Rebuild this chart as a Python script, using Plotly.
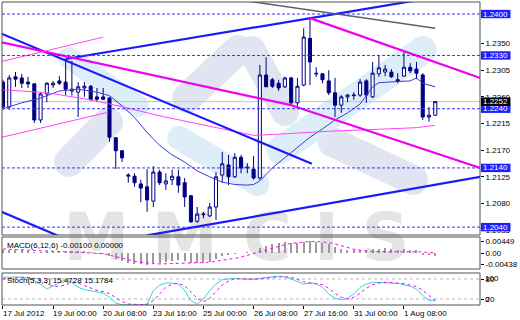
import math
import plotly.graph_objects as go

# ---------------- data ----------------
bars = list(range(70))
opens = [1.2285,1.2243,1.2294,1.2292,1.2285,1.2282,1.2221,1.2265,1.2280,1.2287,
         1.2285,1.2270,1.2268,1.2275,1.2278,1.2260,1.2260,1.2258,1.2191,1.2169,
         1.2126,1.2126,1.2113,1.2108,1.2084,1.2133,1.2113,1.2120,1.2125,1.2115,
         1.2093,1.2050,1.2061,1.2059,1.2074,1.2128,1.2145,1.2125,1.2158,1.2140,
         1.2138,1.2123,1.2297,1.2289,1.2283,1.2277,1.2292,1.2250,1.2280,1.2359,
         1.2300,1.2299,1.2287,1.2267,1.2246,1.2260,1.2262,1.2263,1.2287,1.2260,
         1.2299,1.2302,1.2302,1.2289,1.2295,1.2310,1.2307,1.2297,1.2226,1.2229]
highs = [1.2289,1.2297,1.2302,1.2299,1.2294,1.2283,1.2268,1.2285,1.2287,1.2295,
         1.2324,1.2321,1.2285,1.2285,1.2280,1.2275,1.2275,1.2260,1.2192,1.2170,
         1.2131,1.2131,1.2120,1.2138,1.2143,1.2137,1.2131,1.2137,1.2137,1.2123,
         1.2094,1.2074,1.2066,1.2081,1.2133,1.2167,1.2162,1.2165,1.2162,1.2148,
         1.2160,1.2314,1.2327,1.2292,1.2289,1.2294,1.2294,1.2292,1.2376,1.2393,
         1.2310,1.2300,1.2305,1.2292,1.2263,1.2265,1.2268,1.2290,1.2290,1.2319,
         1.2331,1.2314,1.2307,1.2300,1.2336,1.2317,1.2319,1.2300,1.2243,1.2253]
lows = [1.2238,1.2238,1.2277,1.2275,1.2275,1.2216,1.2216,1.2251,1.2275,1.2280,
        1.2263,1.2262,1.2226,1.2260,1.2255,1.2251,1.2255,1.2184,1.2138,1.2150,
        1.2115,1.2108,1.2082,1.2066,1.2074,1.2111,1.2103,1.2111,1.2098,1.2074,
        1.2047,1.2047,1.2055,1.2057,1.2052,1.2115,1.2111,1.2123,1.2131,1.2131,
        1.2120,1.2120,1.2277,1.2275,1.2270,1.2275,1.2246,1.2244,1.2278,1.2280,
        1.2294,1.2283,1.2263,1.2226,1.2233,1.2251,1.2255,1.2260,1.2250,1.2258,
        1.2294,1.2295,1.2292,1.2283,1.2294,1.2300,1.2290,1.2221,1.2218,1.2228]
closes = [1.2243,1.2292,1.2290,1.2283,1.2282,1.2221,1.2265,1.2283,1.2283,1.2283,
          1.2273,1.2273,1.2277,1.2278,1.2255,1.2256,1.2256,1.2192,1.2169,1.2157,
          1.2128,1.2115,1.2106,1.2086,1.2133,1.2115,1.2118,1.2126,1.2111,1.2091,
          1.2049,1.2062,1.2062,1.2074,1.2125,1.2147,1.2125,1.2158,1.2140,1.2141,
          1.2123,1.2297,1.2277,1.2278,1.2275,1.2292,1.2250,1.2278,1.2361,1.2319,
          1.2299,1.2289,1.2267,1.2246,1.2260,1.2263,1.2263,1.2285,1.2263,1.2300,
          1.2309,1.2307,1.2294,1.2287,1.2310,1.2304,1.2300,1.2226,1.2229,1.2252]

time_tick_bars = [0, 8, 16, 24, 32, 40, 48, 56, 64]
time_tick_labels = ["17 Jul 2012", "19 Jul 00:00", "20 Jul 08:00", "23 Jul 16:00",
                    "25 Jul 00:00", "26 Jul 08:00", "27 Jul 16:00", "31 Jul 00:00",
                    "1 Aug 08:00"]

price_ticks = [1.2350, 1.2305, 1.2260, 1.2215, 1.2170, 1.2125, 1.2080, 1.2035]
price_levels = [1.2400, 1.2330, 1.2240, 1.2140, 1.2040]
current_price = 1.2252

fast_ma_bars = [0, 3, 6, 9, 12, 15, 17, 19, 21, 23, 25, 27, 29, 31, 33, 35, 37, 39, 40,
                41, 43, 45, 47, 49, 51, 53, 55, 57, 58, 59, 60, 61, 63, 65, 66, 67, 69]
fast_ma_vals = [1.2240, 1.2250, 1.2258, 1.2270, 1.2273, 1.2268, 1.2262, 1.2245, 1.2225,
                1.2200, 1.2178, 1.2162, 1.2150, 1.2135, 1.2125, 1.2116, 1.2112, 1.2111,
                1.2112, 1.2118, 1.2140, 1.2157, 1.2175, 1.2192, 1.2206, 1.2221, 1.2233,
                1.2248, 1.2262, 1.2277, 1.2284, 1.2285, 1.2286, 1.2287, 1.2292, 1.2283,
                1.2277]
slow_ma_bars = [0, 7, 14, 20, 25, 29, 33, 36, 40, 44, 47, 52, 57, 62, 66, 69]
slow_ma_vals = [1.2272, 1.2267, 1.2255, 1.2241, 1.2228, 1.2219, 1.2210, 1.2204, 1.2195,
                1.2197, 1.2199, 1.2202, 1.2204, 1.2206, 1.2208, 1.2212]

# trend lines: start bar, start price, end bar, end price
thick_blue_lines = [(-0.5, 1.2368, 49.3, 1.2147),
                    (10.0, 1.2324, 66.0, 1.2423),
                    (-0.5, 1.2067, 10.0, 1.2020),
                    (23.0, 1.2026, 76.2, 1.2125)]
thick_magenta_lines = [(-0.5, 1.2353, 46.0, 1.2246),
                       (46.0, 1.2246, 76.2, 1.2140),
                       (49.0, 1.2393, 76.2, 1.2292)]
thin_magenta_lines = [(-0.5, 1.2319, 16.0, 1.2361),
                      (-0.5, 1.2191, 16.8, 1.2234)]
gray_lines = [(37.7, 1.2424, 69.0, 1.2376)]

macd_hist = [0.0012, 0.0010, 0.0011, 0.0010, 0.0008, 0.0002, 0.0003, 0.0005, 0.0006, 0.0006,
             0.0005, 0.0004, 0.0004, 0.0004, 0.0001, -0.0001, -0.0002, -0.0012, -0.0022, -0.0030,
             -0.0036, -0.0040, -0.0043, -0.0044, -0.0039, -0.0036, -0.0033, -0.0029, -0.0028, -0.0030,
             -0.0038, -0.0039, -0.0038, -0.0035, -0.0024, -0.0012, -0.0008, -0.0002, 0.0000, 0.0001,
             -0.0001, 0.0018, 0.0028, 0.0034, 0.0038, 0.0041, 0.0037, 0.0036, 0.0043, 0.0045,
             0.0043, 0.0039, 0.0032, 0.0022, 0.0016, 0.0013, 0.0011, 0.0013, 0.0010, 0.0014,
             0.0016, 0.0017, 0.0015, 0.0012, 0.0014, 0.0013, 0.0012, -0.0006, -0.0009, -0.0010]
macd_signal = [0.0015, 0.0014, 0.0013, 0.0012, 0.0011, 0.0010, 0.0008, 0.0007, 0.0006, 0.0005,
               0.0005, 0.0004, 0.0004, 0.0003, 0.0002, 0.0001, -0.0002, -0.0008, -0.0014, -0.0020,
               -0.0026, -0.0031, -0.0035, -0.0038, -0.0040, -0.0041, -0.0041, -0.0040, -0.0039, -0.0038,
               -0.0038, -0.0037, -0.0036, -0.0034, -0.0031, -0.0028, -0.0025, -0.0020, -0.0015, -0.0009,
               -0.0003, 0.0004, 0.0011, 0.0018, 0.0025, 0.0031, 0.0036, 0.0039, 0.0041, 0.0043,
               0.0043, 0.0042, 0.0039, 0.0034, 0.0027, 0.0020, 0.0014, 0.0010, 0.0007, 0.0005,
               0.0005, 0.0005, 0.0005, 0.0005, 0.0005, 0.0006, 0.0006, 0.0004, 0.0002, 0.0000]
macd_ticks = [0.00449, 0.0, -0.00438]
macd_tick_text = ["0.00449", "0.00", "-0.00438"]

stoch_main = [85, 86, 86, 85, 83, 75, 65, 50, 60, 70,
              78, 70, 55, 48, 45, 42, 38, 25, 8, 3,
              2, 2, 2, 5, 45, 62, 68, 68, 65, 45,
              15, 5, 20, 45, 65, 78, 80, 82, 80, 80,
              78, 82, 85, 87, 88, 86, 80, 72, 65, 68,
              66, 55, 35, 22, 18, 22, 35, 55, 65, 70,
              70, 69, 68, 67, 62, 58, 50, 30, 16, 15.4728]
stoch_signal = [80, 82, 84, 85, 85, 82, 76, 66, 58, 58,
                62, 70, 68, 60, 52, 46, 42, 36, 24, 12,
                5, 3, 3, 3, 15, 35, 55, 65, 67, 60,
                42, 22, 12, 22, 42, 62, 74, 80, 81, 80,
                79, 80, 82, 85, 87, 87, 85, 79, 72, 68,
                66, 63, 52, 37, 25, 20, 25, 37, 52, 63,
                68, 70, 69, 68, 66, 62, 57, 46, 32, 15.1784]
stoch_levels = [20, 80]

# ---------------- geometry ----------------
W, H = 520, 320
ML, MR, MT, MB = 2, 32, 2, 15
PW, PH = W - ML - MR, H - MT - MB


def px2paper(x, y):
    return (x - ML) / PW, (H - MB - y) / PH


main_dom = [px2paper(0, 235)[1], 1.0]
macd_dom = [px2paper(0, 269)[1], px2paper(0, 237)[1]]
stoch_dom = [0.0, px2paper(0, 273)[1]]

NAVY = "#000080"
BLUE = "#1a1aff"
MAG = "#f000f0"
FONT = "Liberation Sans"

fig = go.Figure()

fig.add_trace(go.Candlestick(
    x=bars, open=opens, high=highs, low=lows, close=closes,
    increasing=dict(line=dict(color=NAVY, width=1), fillcolor="white"),
    decreasing=dict(line=dict(color=NAVY, width=1), fillcolor=NAVY),
    whiskerwidth=0, showlegend=False, hoverinfo="skip", xaxis="x", yaxis="y"))

fig.add_trace(go.Scatter(x=fast_ma_bars, y=fast_ma_vals, mode="lines",
                         line=dict(color="#3b3bd6", width=1), showlegend=False,
                         hoverinfo="skip", yaxis="y"))
fig.add_trace(go.Scatter(x=slow_ma_bars, y=slow_ma_vals, mode="lines",
                         line=dict(color="#ff44ff", width=1), showlegend=False,
                         hoverinfo="skip", yaxis="y"))

for group, color, width in [(thick_blue_lines, BLUE, 2.2), (thick_magenta_lines, MAG, 2.2),
                            (thin_magenta_lines, "#ff44ff", 1), (gray_lines, "#606060", 1.4)]:
    for (b0, p0, b1, p1) in group:
        fig.add_trace(go.Scatter(x=[b0, b1], y=[p0, p1], mode="lines",
                                 line=dict(color=color, width=width), showlegend=False,
                                 hoverinfo="skip", yaxis="y"))

# MACD
fig.add_trace(go.Bar(x=bars, y=macd_hist, width=0.18, marker=dict(color="#9a9a9a", line=dict(width=0)),
                     showlegend=False, hoverinfo="skip", yaxis="y2"))
fig.add_trace(go.Scatter(x=bars, y=macd_signal, mode="lines",
                         line=dict(color="#ff00ff", width=1, dash="dot"), showlegend=False,
                         hoverinfo="skip", yaxis="y2"))
# Stochastic
fig.add_trace(go.Scatter(x=bars, y=stoch_main, mode="lines",
                         line=dict(color="#30d8d8", width=1), showlegend=False,
                         hoverinfo="skip", yaxis="y3"))
fig.add_trace(go.Scatter(x=bars, y=stoch_signal, mode="lines",
                         line=dict(color="#ff00ff", width=1, dash="dot"), showlegend=False,
                         hoverinfo="skip", yaxis="y3"))

shapes = []
annotations = []

# watermark (decoration, paper coordinates)
def stadium(p1, p2, w, color):
    (x1, y1), (x2, y2) = p1, p2
    ang = math.atan2(y2 - y1, x2 - x1)
    r = w / 2
    pts = []
    for k in range(13):
        a = ang + math.pi / 2 + math.pi * k / 12
        pts.append((x1 + r * math.cos(a), y1 + r * math.sin(a)))
    for k in range(13):
        a = ang - math.pi / 2 + math.pi * k / 12
        pts.append((x2 + r * math.cos(a), y2 + r * math.sin(a)))
    path = "M " + " L ".join("%.4f,%.4f" % px2paper(x, y) for x, y in pts) + " Z"
    return dict(type="path", path=path, xref="paper", yref="paper", layer="below",
                fillcolor=color, line=dict(width=0))

LAV = "#e1e5f1"
CYA = "#ddeef9"
for p1, p2, w, c in [((70, 162), (110, 122), 30, LAV), ((190, 98), (242, 50), 30, LAV),
                     ((256, 50), (290, 112), 28, LAV), ((338, 142), (420, 180), 30, LAV),
                     ((70, 58), (140, 106), 22, CYA), ((182, 138), (262, 184), 24, CYA),
                     ((285, 150), (430, 50), 28, CYA)]:
    shapes.append(stadium(p1, p2, w, c))

for letter, cx in [("M", 98), ("M", 188), ("C", 272), ("I", 332), ("S", 392)]:
    x0, y0 = px2paper(cx - 40, 260)
    x1, y1 = px2paper(cx + 40, 205)
    shapes.append(dict(type="rect", xref="paper", yref="paper", x0=x0, x1=x1, y0=y0, y1=y1,
                       layer="below", line=dict(width=0), fillcolor="rgba(0,0,0,0)",
                       label=dict(text=letter, textposition="middle center",
                                  font=dict(family="DejaVu Sans", size=66, color="#e4e4e4",
                                            weight="bold"))))

# price level dashed lines
for lv in price_levels:
    shapes.append(dict(type="line", xref="paper", x0=0, x1=1, yref="y", y0=lv, y1=lv,
                       line=dict(color="#3434ff", width=1, dash="3px,2px"), layer="above"))
shapes.append(dict(type="line", xref="paper", x0=0, x1=1, yref="y", y0=current_price,
                   y1=current_price, line=dict(color="#c4c4c4", width=1), layer="below"))
for lv in stoch_levels:
    shapes.append(dict(type="line", xref="paper", x0=0, x1=1, yref="y3", y0=lv, y1=lv,
                       line=dict(color="#b4b4b4", width=1, dash="3px,3px"), layer="below"))

# panel frames
for dom in (main_dom, macd_dom, stoch_dom):
    shapes.append(dict(type="rect", xref="paper", yref="paper", x0=0, x1=1, y0=dom[0], y1=dom[1],
                       line=dict(color="#505050", width=1), fillcolor="rgba(0,0,0,0)", layer="above"))

# boxed price labels on the right axis
half_box = 4.2 * (1.24203 - 1.20267) / (235 - 2)
bx0 = (489 - ML) / PW
bx1 = (519 - ML) / PW
for lv, bg in [(p, "#2020ff") for p in price_levels] + [(current_price, "#000000")]:
    shapes.append(dict(type="rect", xref="paper", yref="y", x0=bx0, x1=bx1,
                       y0=lv - half_box, y1=lv + half_box, fillcolor=bg,
                       line=dict(width=0), layer="above"))
    annotations.append(dict(xref="paper", yref="y", x=(bx0 + bx1) / 2, y=lv, text="%.4f" % lv,
                            showarrow=False, xanchor="center", yanchor="middle",
                            font=dict(family=FONT, size=8, color="white")))

# panel titles
tx, ty = px2paper(5, 245)
annotations.append(dict(xref="paper", yref="paper", x=tx, y=ty, text="MACD(6,12,6) -0.00100 0.00000",
                        showarrow=False, xanchor="left", yanchor="middle",
                        font=dict(family=FONT, size=8, color="#000000")))
tx, ty = px2paper(5, 280)
annotations.append(dict(xref="paper", yref="paper", x=tx, y=ty, text="Stoch(5,3,3) 15.4728 15.1784",
                        showarrow=False, xanchor="left", yanchor="middle",
                        font=dict(family=FONT, size=8, color="#000000")))

# stoch extra labels
for txt, yv in [("100", 82), ("0", 18)]:
    annotations.append(dict(xref="paper", yref="y3", x=1, y=yv, text=txt, showarrow=False,
                            xanchor="left", yanchor="middle", xshift=3,
                            font=dict(family=FONT, size=8, color="#000000")))

# time labels
for b, lab in zip(time_tick_bars, time_tick_labels):
    annotations.append(dict(xref="x", yref="paper", x=b, y=0, text=lab, showarrow=False,
                            xanchor="left", yanchor="top", yshift=-2, xshift=-2,
                            font=dict(family=FONT, size=8, color="#000000")))

axis_common = dict(showgrid=False, zeroline=False, ticks="outside", ticklen=3, tickcolor="#000",
                   tickfont=dict(family=FONT, size=8, color="#000"), side="right", anchor="x",
                   fixedrange=True, showline=False)

fig.update_layout(
    width=W, height=H,
    margin=dict(l=ML, r=MR, t=MT, b=MB, pad=0),
    paper_bgcolor="white", plot_bgcolor="rgba(0,0,0,0)",
    showlegend=False, bargap=0,
    xaxis=dict(range=[-0.157, 76.14], anchor="y3", showgrid=False, zeroline=False,
               showticklabels=False, ticks="outside", ticklen=3, tickcolor="#000",
               tickvals=time_tick_bars, rangeslider=dict(visible=False), fixedrange=True),
    yaxis=dict(domain=main_dom, range=[1.20267, 1.24203], tickvals=price_ticks,
               ticktext=["%.4f" % v for v in price_ticks], **axis_common),
    yaxis2=dict(domain=macd_dom, range=[-0.006, 0.006], tickvals=macd_ticks,
                ticktext=macd_tick_text, **axis_common),
    yaxis3=dict(domain=stoch_dom, range=[2, 98], tickvals=[80, 20], ticktext=["80", "20"],
                **axis_common),
    shapes=shapes, annotations=annotations,
)

fig.write_html("out.html")
